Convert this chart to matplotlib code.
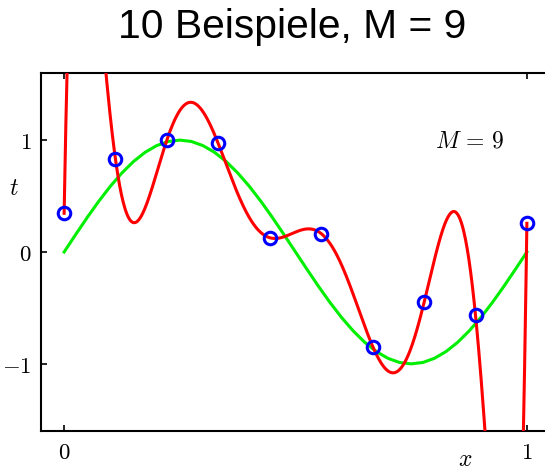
import numpy as np
import matplotlib
matplotlib.use('Agg')
import matplotlib.pyplot as plt

plt.rcParams['mathtext.fontset'] = 'cm'

# Beobachtungen
x_pts = [0.0, 0.111, 0.222, 0.333, 0.444, 0.556, 0.667, 0.778, 0.889, 1.0]
t_pts = [0.346, 0.828, 1.0, 0.970, 0.128, 0.163, -0.846, -0.449, -0.565, 0.256]

# gruene Kurve (Schritt 0.025)
x_green = [i / 40 for i in range(41)]
t_green = [0.0, 0.156, 0.309, 0.454, 0.588, 0.707, 0.809, 0.891, 0.951, 0.988,
           1.0, 0.988, 0.951, 0.891, 0.809, 0.707, 0.588, 0.454, 0.309, 0.156,
           0.0, -0.156, -0.309, -0.454, -0.588, -0.707, -0.809, -0.891, -0.951, -0.988,
           -1.0, -0.988, -0.951, -0.891, -0.809, -0.707, -0.588, -0.454, -0.309, -0.156,
           0.0]

M = 9
x_ticks = [0, 1]
x_ticklabels = ['$0$', '$1$']
y_ticks = [-1, 0, 1]
y_ticklabels = ['$-1$', '$0$', '$1$']

# Polynom vom Grad M durch die Punkte
coef = np.polyfit(x_pts, t_pts, M)
x_red = np.linspace(0, 1, 800)
t_red = np.polyval(coef, x_red)

fig = plt.figure(figsize=(5.45, 4.71), dpi=100)
ax = fig.add_axes([0.0752, 0.085, 0.934, 0.760])

ax.plot(x_green, t_green, color='#00ee00', linewidth=2.2, zorder=2)
ax.plot(x_red, t_red, color='#ff0000', linewidth=2.2, zorder=3)
ax.plot(x_pts, t_pts, 'o', markersize=9, markerfacecolor='none',
        markeredgecolor='#0000ff', markeredgewidth=2.2, zorder=4)

ax.set_xlim(-0.05, 1.05)
ax.set_ylim(-1.6, 1.6)
ax.set_xticks(x_ticks)
ax.set_xticklabels(x_ticklabels)
ax.set_yticks(y_ticks)
ax.set_yticklabels(y_ticklabels)
ax.tick_params(direction='in', top=True, right=False, length=4, width=1.2,
               labelsize=16.5, pad=7)
for s in ax.spines.values():
    s.set_linewidth(1.5)

ax.text(0.877, 1.0, r'$M\,=\,9$', fontsize=17, ha='center', va='center')
fig.text(14 / 545, 1 - 188 / 471, r'$t$', fontsize=17, ha='center', va='center')
fig.text(465 / 545, 1 - 459 / 471, r'$x$', fontsize=17, ha='center', va='center')

fig.text(292.5 / 545, 1 - 27 / 471, '10 Beispiele, M = 9', fontsize=29.3,
         family='Liberation Sans', ha='center', va='center')

fig.savefig('out.png', dpi=100)
